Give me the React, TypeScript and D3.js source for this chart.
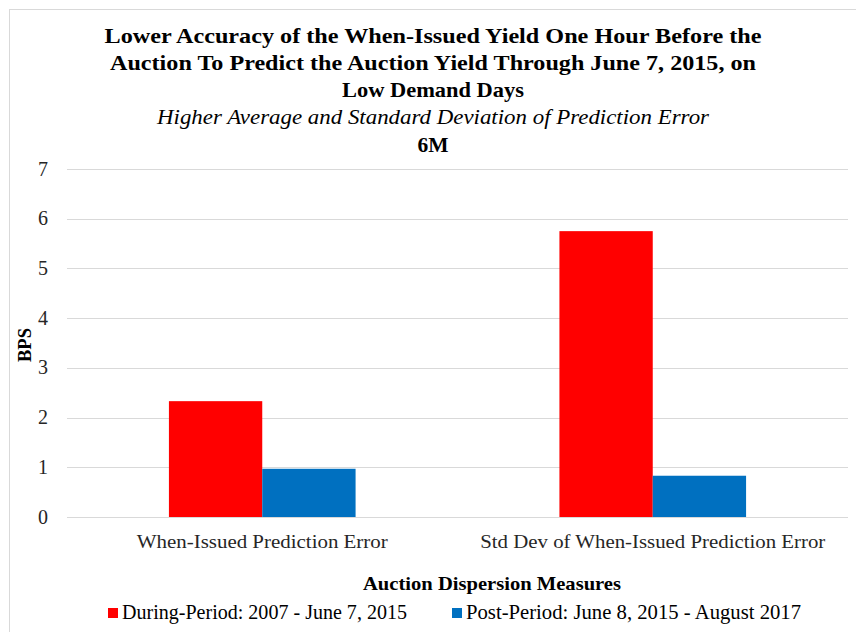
import React from "react";
import * as d3 from "d3";

const categories = ["When-Issued Prediction Error", "Std Dev of When-Issued Prediction Error"];
const seriesNames = ["During-Period: 2007 - June 7, 2015", "Post-Period: June 8, 2015 - August 2017"];
const duringValues = [2.33, 5.75];
const postValues = [0.97, 0.83];
const yTicks = [0, 1, 2, 3, 4, 5, 6, 7];
const titleLines = [
  "Lower Accuracy of the When-Issued Yield One Hour Before the",
  "Auction To Predict the Auction Yield Through June 7, 2015, on",
  "Low Demand Days",
];
const subtitle = "Higher Average and Standard Deviation of Prediction Error";
const tenor = "6M";
const xAxisTitle = "Auction Dispersion Measures";
const yAxisTitle = "BPS";

const colors = ["#ff0000", "#0070c0"];
const FONT = "'Liberation Serif', 'DejaVu Serif', serif";

export default function App() {
  const W = 856, H = 632;
  const plotL = 67, plotR = 848, plotT = 169, plotB = 517;
  const x0 = d3.scaleBand<string>().domain(categories).range([plotL, plotR]).paddingInner(0.522).paddingOuter(0.261);
  const x1 = d3.scaleBand<number>().domain([0, 1]).range([0, x0.bandwidth()]);
  const y = d3.scaleLinear().domain([0, 7]).range([plotB, plotT]);
  const series = [duringValues, postValues];
  const titleWidths = [657, 646, 182];
  const titleY = [43, 70, 97];
  const catWidths = [251, 345];

  return (
    <svg width={W} height={H} style={{ position: "absolute", left: 0, top: 0, background: "#fff" }}>
      <rect x={9.5} y={9.5} width={900} height={700} fill="#fff" stroke="#d9d9d9" />
      {titleLines.map((t, i) => (
        <text key={i} x={433} y={titleY[i]} textAnchor="middle" fontFamily={FONT} fontWeight="bold" fontSize={22}
          textLength={titleWidths[i]} lengthAdjust="spacingAndGlyphs" fill="#000">{t}</text>
      ))}
      <text x={433} y={124} textAnchor="middle" fontFamily={FONT} fontStyle="italic" fontSize={22}
        textLength={552} lengthAdjust="spacingAndGlyphs" fill="#000">{subtitle}</text>
      <text x={433} y={152} textAnchor="middle" fontFamily={FONT} fontWeight="bold" fontSize={22}
        textLength={31} lengthAdjust="spacingAndGlyphs" fill="#000">{tenor}</text>
      {yTicks.map((t) => (
        <g key={t}>
          <line x1={plotL} x2={plotR} y1={Math.round(y(t)) + 0.5} y2={Math.round(y(t)) + 0.5} stroke="#d9d9d9" strokeWidth={1} />
          <text x={48} y={y(t) + 6.5} textAnchor="end" fontFamily={FONT} fontSize={20} fill="#262626">{t}</text>
        </g>
      ))}
      {categories.map((c, ci) => (
        <g key={c}>
          {series.map((s, si) => (
            <rect key={si} x={(x0(c) as number) + (x1(si) as number)} y={y(s[ci])} width={x1.bandwidth()}
              height={y(0) - y(s[ci])} fill={colors[si]} />
          ))}
          <text x={(x0(c) as number) + x0.bandwidth() / 2} y={548} textAnchor="middle" fontFamily={FONT} fontSize={19.5}
            textLength={catWidths[ci]} lengthAdjust="spacingAndGlyphs" fill="#262626">{c}</text>
        </g>
      ))}
      <text transform={`translate(31,${345}) rotate(-90)`} textAnchor="middle" fontFamily={FONT} fontWeight="bold" fontSize={19}
        textLength={34} lengthAdjust="spacingAndGlyphs" fill="#000">{yAxisTitle}</text>
      <text x={492} y={590} textAnchor="middle" fontFamily={FONT} fontWeight="bold" fontSize={19}
        textLength={258} lengthAdjust="spacingAndGlyphs" fill="#000">{xAxisTitle}</text>
      {seriesNames.map((n, i) => {
        const lx = [108, 452][i];
        const tw = [285, 335][i];
        return (
          <g key={n}>
            <rect x={lx} y={608} width={10} height={10} fill={colors[i]} />
            <text x={lx + 14} y={619} fontFamily={FONT} fontSize={21} textLength={tw} lengthAdjust="spacingAndGlyphs" fill="#000">{n}</text>
          </g>
        );
      })}
    </svg>
  );
}
